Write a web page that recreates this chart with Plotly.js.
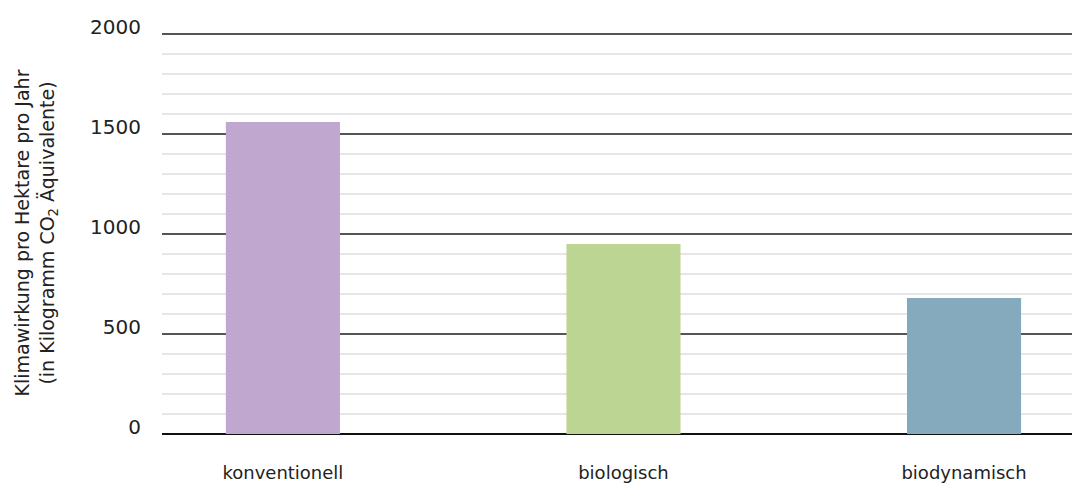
<!DOCTYPE html>
<html>
<head>
<meta charset="utf-8">
<script src="https://cdn.plot.ly/plotly-3.0.1.min.js"></script>
<style>html,body{margin:0;padding:0;background:#fff;}#chart{width:1072px;height:488px;}</style>
</head>
<body>
<div id="chart"></div>
<script>
const categories = ["konventionell", "biologisch", "biodynamisch"];
const values = [1560, 950, 680];
const barColors = ["#C0A7CF", "#BDD592", "#86AABD"];
const yTickVals = [0, 500, 1000, 1500, 2000];
const yTickText = ["0", "500", "1000", "1500", "2000"];

const trace = {
  type: "bar",
  x: categories,
  y: values,
  marker: {color: barColors, line: {width: 0}},
  width: 0.335,
  hoverinfo: "x+y"
};

const font = "DejaVu Sans, sans-serif";
const layout = {
  width: 1072, height: 488,
  margin: {l: 162, r: 0, t: 32, b: 54, pad: 0},
  paper_bgcolor: "#fff", plot_bgcolor: "#fff",
  showlegend: false,
  font: {family: font, color: "#222", size: 18},
  xaxis: {
    type: "category",
    range: [-0.355, 2.317],
    showgrid: false, zeroline: false,
    showline: true, linecolor: "#111", linewidth: 1.2,
    ticks: "", ticklabelstandoff: 22,
    tickfont: {family: font, size: 18, color: "#222"}
  },
  yaxis: {
    range: [0, 2010],
    tickvals: yTickVals, ticktext: yTickText,
    showgrid: true, gridcolor: "#555", gridwidth: 1.2,
    zeroline: true, zerolinecolor: "#111", zerolinewidth: 1.2,
    ticks: "", ticklabelstandoff: 20, ticklabelshift: -7,
    tickfont: {family: font, size: 20, color: "#222"},
    minor: {dtick: 100, showgrid: true, gridcolor: "#e6e6e6", gridwidth: 1.2, ticks: ""},
    title: {
      text: "Klimawirkung pro Hektare pro Jahr<br>(in Kilogramm CO<sub>2</sub> Äquivalente)",
      font: {family: font, size: 19, color: "#222"},
      standoff: 30
    }
  },
  bargap: 0.6
};

Plotly.newPlot("chart", [trace], layout, {displayModeBar: false, staticPlot: true});
</script>
</body>
</html>
